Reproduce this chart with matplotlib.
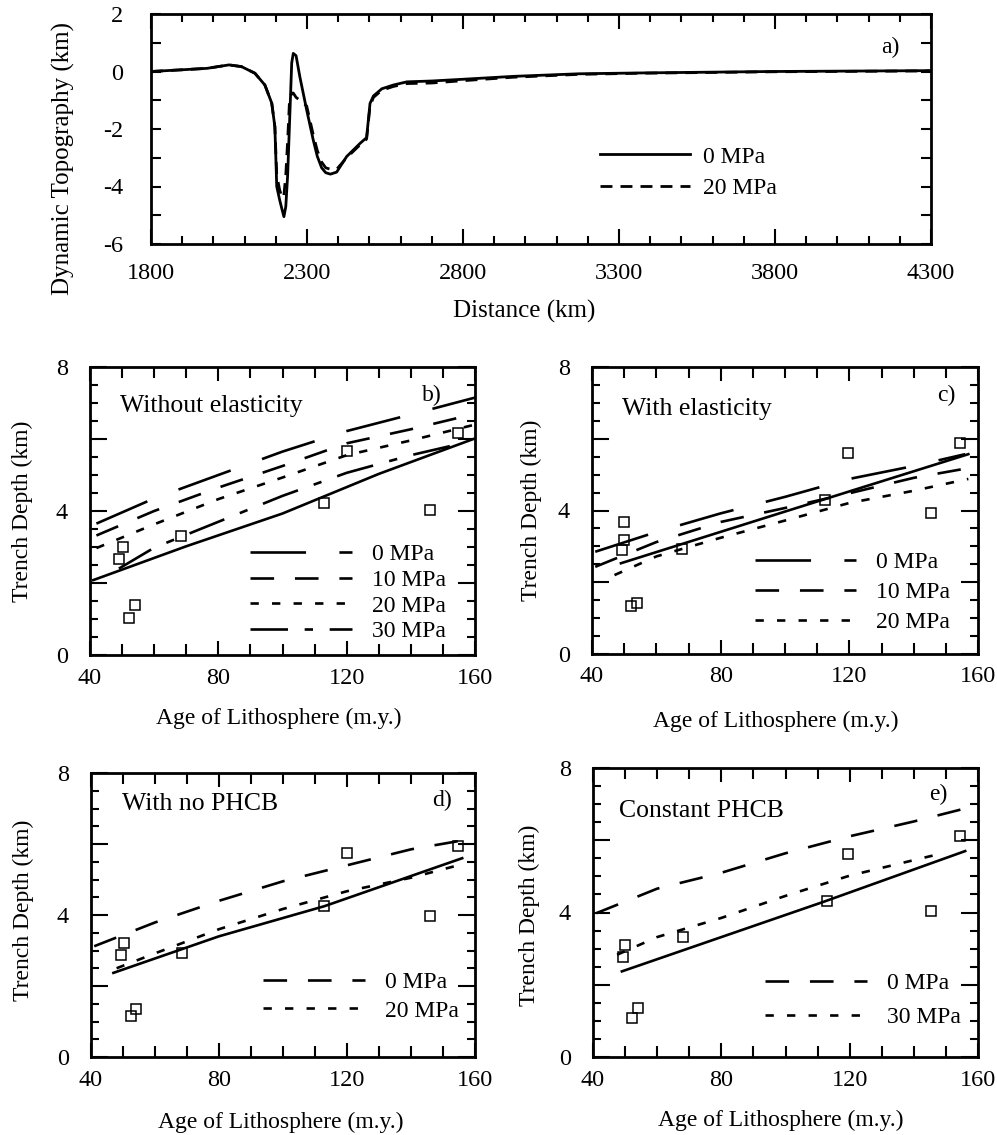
import matplotlib
matplotlib.use('Agg')
import matplotlib.pyplot as plt
from matplotlib.ticker import MultipleLocator, FixedLocator, FuncFormatter

plt.rcParams['font.family'] = ['Liberation Serif', 'DejaVu Serif']
plt.rcParams['lines.scale_dashes'] = False
plt.rcParams['axes.unicode_minus'] = False

# ---------------- Panel a data ----------------
dist_km = [1800, 1900, 1980, 2050, 2090, 2133, 2165, 2187, 2197, 2203, 2212, 2220,
           2226, 2232, 2238, 2244, 2251, 2256, 2265, 2277, 2299, 2320, 2333, 2347,
           2360, 2375, 2395, 2427, 2470, 2491, 2502, 2513, 2540, 2577, 2620, 2700,
           2800, 2960, 3170, 3370, 3790, 4300]
topo_0mpa = [0.0, 0.06, 0.11, 0.23, 0.17, -0.06, -0.47, -1.1, -1.92, -4.0, -4.45, -4.8,
             -5.05, -4.7, -3.6, -1.8, 0.3, 0.63, 0.55, -0.18, -1.34, -2.38, -2.95, -3.35,
             -3.52, -3.57, -3.5, -2.96, -2.5, -2.3, -1.11, -0.85, -0.6, -0.47, -0.36, -0.33,
             -0.27, -0.17, -0.08, -0.05, 0.0, 0.03]
topo_20mpa = [0.0, 0.06, 0.11, 0.23, 0.17, -0.06, -0.47, -1.1, -1.92, -3.6, -4.1, -4.4,
              -4.3, -3.6, -2.4, -1.0, -0.75, -0.75, -0.9, -1.0, -1.2, -2.2, -2.75, -3.15,
              -3.35, -3.4, -3.4, -3.0, -2.55, -2.35, -1.2, -0.9, -0.65, -0.52, -0.42, -0.4,
              -0.32, -0.2, -0.1, -0.06, -0.01, 0.02]
dist_ticks = [1800, 2300, 2800, 3300, 3800, 4300]

# ---------------- Observed trench depths (squares) ----------------
sq_b_age = [50.4, 49.0, 54.0, 52.3, 68.3, 112.9, 120.0, 146.0, 154.8]
sq_b_dep = [3.01, 2.66, 1.39, 1.02, 3.31, 4.22, 5.68, 4.03, 6.18]
sq_c_age = [50.0, 50.0, 49.3, 52.1, 53.9, 67.9, 112.4, 119.7, 145.5, 154.3]
sq_c_dep = [3.68, 3.19, 2.90, 1.34, 1.43, 2.94, 4.29, 5.59, 3.94, 5.89]
sq_d_age = [50.4, 49.4, 54.2, 52.5, 68.4, 112.9, 119.9, 146.0, 154.8]
sq_d_dep = [3.22, 2.87, 1.36, 1.15, 2.94, 4.24, 5.76, 3.97, 5.95]
sq_e_age = [50.1, 49.2, 53.9, 52.1, 68.0, 112.8, 119.5, 145.5, 154.5]
sq_e_dep = [3.11, 2.77, 1.36, 1.08, 3.32, 4.31, 5.63, 4.03, 6.11]

# ---------------- Model curves ----------------
b_age = [42, 60, 80, 100, 120, 140, 160]
b_0 = [3.65, 4.35, 5.0, 5.65, 6.22, 6.68, 7.15]
b_10 = [3.32, 4.0, 4.65, 5.25, 5.88, 6.27, 6.7]
b_20 = [2.97, 3.63, 4.33, 4.93, 5.55, 5.96, 6.4]
b30_age = [49, 60, 80, 100, 120, 140, 156]
b_30 = [2.4, 2.98, 3.7, 4.42, 5.06, 5.55, 5.88]
bs_age = [41, 70, 100, 130, 159.5]
b_solid = [2.08, 3.02, 3.93, 5.03, 6.0]

c_age0 = [41, 60, 80, 100, 120, 140, 156]
c_0 = [2.85, 3.4, 3.92, 4.38, 4.88, 5.24, 5.57]
c_age10 = [41, 60, 80, 100, 120, 140, 155]
c_10 = [2.43, 3.12, 3.68, 4.07, 4.48, 4.91, 5.15]
c_age20 = [47, 60, 80, 100, 120, 140, 157]
c_20 = [2.2, 2.72, 3.24, 3.72, 4.21, 4.55, 4.88]
cs_age = [49, 100, 157]
c_solid = [2.53, 3.97, 5.57]

d_age0 = [41, 60, 80, 100, 120, 140, 156]
d_0 = [3.12, 3.79, 4.4, 4.95, 5.4, 5.85, 6.1]
d_age20 = [48, 60, 80, 100, 120, 140, 156]
d_20 = [2.5, 2.92, 3.6, 4.17, 4.67, 5.05, 5.43]
ds_age = [47, 80, 113, 156]
d_solid = [2.37, 3.4, 4.25, 5.6]

e_age0 = [41, 60, 80, 100, 120, 140, 156]
e_0 = [3.98, 4.66, 5.1, 5.64, 6.11, 6.52, 6.88]
e_age30 = [47.5, 60, 80, 100, 120, 140, 148]
e_30 = [2.83, 3.32, 3.85, 4.46, 5.02, 5.45, 5.62]
es_age = [49, 112, 156]
e_solid = [2.37, 4.3, 5.7]

# dash patterns (points)
D_LONG = (0, (40, 24))
D_MED = (0, (17, 15))
D_SHORT = (0, (6, 9.5))
D_LS = (0, (27, 12, 6, 12))
D_A = (0, (8.6, 5.8))

FS = 17
TFS = 17.5
LW = 1.9

W, H = 997, 1135
fig = plt.figure(figsize=(W / 100, H / 100), dpi=100)


def add_ax(l, r, t, b):
    return fig.add_axes([l / W, 1 - b / H, (r - l) / W, (b - t) / H])


def style_small(ax):
    ax.set_xlim(40, 160)
    ax.set_ylim(0, 8)
    ax.xaxis.set_major_locator(MultipleLocator(40))
    ax.xaxis.set_minor_locator(MultipleLocator(10))
    ax.yaxis.set_major_locator(MultipleLocator(2))
    ax.yaxis.set_minor_locator(MultipleLocator(0.5))
    ax.yaxis.set_major_formatter(FuncFormatter(lambda v, p: f"{int(v)}" if int(v) % 4 == 0 else ""))
    ax.tick_params(which='both', direction='in', top=True, right=True, width=1.5,
                   labelsize=TFS)
    ax.tick_params(axis='x', which='major', length=10, pad=9)
    ax.tick_params(axis='x', which='minor', length=8)
    ax.tick_params(axis='y', which='major', length=12, pad=16)
    ax.tick_params(axis='y', which='minor', length=5.5)
    for s in ax.spines.values():
        s.set_linewidth(2)
    ax.set_xlabel('Age of Lithosphere (m.y.)', fontsize=FS)
    ax.set_ylabel('Trench Depth (km)', fontsize=FS)


def squares(ax, x, y):
    ax.plot(x, y, linestyle='none', marker='s', ms=7.8, mfc='none', mec='black', mew=1.1)


def legend(ax, x, y, spacing):
    ax.legend(loc='upper left', bbox_to_anchor=(x, y), frameon=False, handlelength=4.3,
              handletextpad=0.85, labelspacing=spacing, borderpad=0, borderaxespad=0,
              fontsize=FS)


# ---------------- Panel a ----------------
axa = add_ax(151, 931, 14, 244)
axa.plot(dist_km, topo_0mpa, color='black', lw=2.0, label='0 MPa')
axa.plot(dist_km, topo_20mpa, color='black', lw=2.0, linestyle=D_A, label='20 MPa')
axa.set_xlim(1800, 4300)
axa.set_ylim(-6, 2)
axa.xaxis.set_major_locator(FixedLocator(dist_ticks))
axa.xaxis.set_minor_locator(MultipleLocator(100))
axa.yaxis.set_major_locator(MultipleLocator(2))
axa.yaxis.set_minor_locator(MultipleLocator(1))
axa.tick_params(which='both', direction='in', top=True, right=True, width=1.5, labelsize=TFS)
axa.tick_params(axis='x', which='major', length=11, pad=14)
axa.tick_params(axis='x', which='minor', length=6)
axa.tick_params(axis='y', which='both', length=7, pad=20)
for s in axa.spines.values():
    s.set_linewidth(2)
axa.set_xlabel('Distance (km)', fontsize=18)
axa.set_ylabel('Dynamic Topography (km)', fontsize=18)
axa.xaxis.set_label_coords(0.478, -0.245)
axa.yaxis.set_label_coords(-0.097, 0.37)
axa.text(4170, 0.85, 'a)', fontsize=FS, ha='center', va='center')
axa.legend(loc='upper left', bbox_to_anchor=(0.576, 0.426), frameon=False, handlelength=3.8,
           handletextpad=0.55, labelspacing=0.44, borderpad=0, borderaxespad=0, fontsize=FS)

# ---------------- Panel b ----------------
axb = add_ax(90, 475, 367, 655)
axb.plot(bs_age, b_solid, color='black', lw=LW, label='_nolegend_')
axb.plot(b_age, b_0, color='black', lw=LW, linestyle=D_LONG, label='0 MPa')
axb.plot(b_age, b_10, color='black', lw=LW, linestyle=D_MED, label='10 MPa')
axb.plot(b_age, b_20, color='black', lw=LW, linestyle=D_SHORT, label='20 MPa')
axb.plot(b30_age, b_30, color='black', lw=LW, linestyle=D_LS, label='30 MPa')
squares(axb, sq_b_age, sq_b_dep)
style_small(axb)
axb.xaxis.set_label_coords(0.491, -0.183)
axb.yaxis.set_label_coords(-0.147, 0.498)
axb.text(49.4, 6.92, 'Without elasticity', fontsize=18.5, ha='left', va='center')
axb.text(146.5, 7.22, 'b)', fontsize=FS, ha='center', va='center')
legend(axb, 0.416, 0.387, 0.18)

# ---------------- Panel c ----------------
axc = add_ax(592, 978, 367, 654)
axc.plot(cs_age, c_solid, color='black', lw=LW, label='_nolegend_')
axc.plot(c_age0, c_0, color='black', lw=LW, linestyle=D_LONG, label='0 MPa')
axc.plot(c_age10, c_10, color='black', lw=LW, linestyle=D_MED, label='10 MPa')
axc.plot(c_age20, c_20, color='black', lw=LW, linestyle=D_SHORT, label='20 MPa')
squares(axc, sq_c_age, sq_c_dep)
style_small(axc)
axc.xaxis.set_label_coords(0.476, -0.198)
axc.yaxis.set_label_coords(-0.13, 0.499)
axc.text(49.2, 6.84, 'With elasticity', fontsize=18.5, ha='left', va='center')
axc.text(150.3, 7.22, 'c)', fontsize=FS, ha='center', va='center')
legend(axc, 0.422, 0.356, 0.35)

# ---------------- Panel d ----------------
axd = add_ax(91, 475, 773, 1057)
axd.plot(ds_age, d_solid, color='black', lw=LW, label='_nolegend_')
axd.plot(d_age0, d_0, color='black', lw=LW, linestyle=D_MED, label='0 MPa')
axd.plot(d_age20, d_20, color='black', lw=LW, linestyle=D_SHORT, label='20 MPa')
squares(axd, sq_d_age, sq_d_dep)
style_small(axd)
axd.xaxis.set_label_coords(0.494, -0.193)
axd.yaxis.set_label_coords(-0.149, 0.518)
axd.text(49.6, 7.13, 'With no PHCB', fontsize=18.5, ha='left', va='center')
axd.text(149.6, 7.24, 'd)', fontsize=FS, ha='center', va='center')
legend(axd, 0.448, 0.301, 0.3)

# ---------------- Panel e ----------------
axe = add_ax(593, 978, 768, 1057)
axe.plot(es_age, e_solid, color='black', lw=LW, label='_nolegend_')
axe.plot(e_age0, e_0, color='black', lw=LW, linestyle=D_MED, label='0 MPa')
axe.plot(e_age30, e_30, color='black', lw=LW, linestyle=D_SHORT, label='30 MPa')
squares(axe, sq_e_age, sq_e_dep)
style_small(axe)
axe.xaxis.set_label_coords(0.488, -0.183)
axe.yaxis.set_label_coords(-0.137, 0.491)
axe.text(48.2, 6.82, 'Constant PHCB', fontsize=18.5, ha='left', va='center')
axe.text(147.6, 7.27, 'e)', fontsize=FS, ha='center', va='center')
legend(axe, 0.447, 0.292, 0.53)

fig.savefig('out.png', dpi=100)
